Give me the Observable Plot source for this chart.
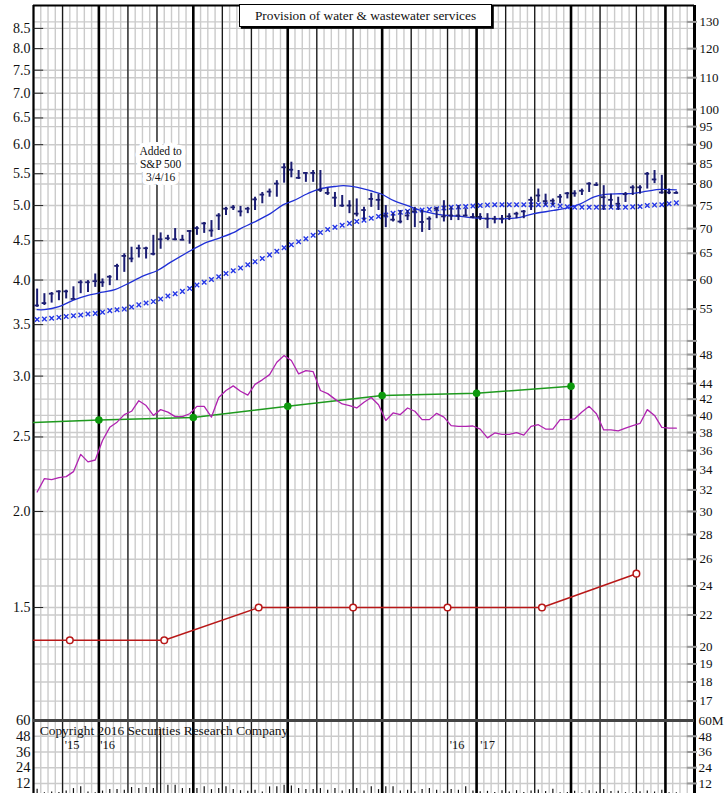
<!DOCTYPE html>
<html><head><meta charset="utf-8">
<script src="https://cdn.jsdelivr.net/npm/d3@7"></script>
<script src="https://cdn.jsdelivr.net/npm/@observablehq/plot@0.6"></script>
<style>
html,body{margin:0;padding:0;background:#fff;overflow:hidden;}
#wrap{position:relative;width:724px;height:793px;overflow:hidden;background:#fff;}
#wrap svg{position:absolute;left:0;overflow:visible;}
#title{position:absolute;left:239px;top:3.5px;width:251px;height:21px;border:1.2px solid #000;box-shadow:1.8px 1.8px 0 #000;background:#fff;
  font-family:'Liberation Serif','Times New Roman',serif;font-size:13.3px;text-align:center;line-height:21px;color:#111;z-index:5;}
</style></head><body><div id="wrap"></div>
<script>
// ---------- text ----------
const title = "Provision of water & wastewater services";
const note = ["Added to", "S&P 500", "3/4/16"];
const copyright = "Copyright 2016 Securities Research Company";
const yearText = ["'15", "'16", "'16", "'17"];
const yearWeek = [4.3, 9.2, 57.3, 61.5];

// ---------- weekly price bars (right scale) ----------
const high = [58.4,57.6,57.8,58.1,58.2,58.8,59.9,59.9,61.1,60.2,
  60.8,62.9,64.9,66.2,66.6,66.2,68.6,69.1,68.6,70.0,
  68.6,69.6,70.4,71.3,71.7,73.2,74.6,75.0,74.8,74.6,
  76.9,78.0,78.8,80.8,85.0,85.4,83.3,82.8,83.3,83.3,
  79.0,78.0,77.3,76.1,76.5,74.6,77.8,77.6,75.0,73.2,
  73.9,73.9,74.6,73.9,72.5,74.6,76.1,74.6,75.0,74.3,
  73.2,73.2,73.2,72.6,72.8,73.2,73.5,73.9,76.9,78.8,
  77.6,76.5,77.5,78.0,78.4,78.8,80.3,80.3,79.6,77.6,
  76.9,78.0,79.6,79.6,82.8,83.3,82.1,78.8,78.2];
const low = [55.3,55.6,56.0,56.4,56.7,56.6,57.6,57.8,58.7,58.7,
  59.0,59.9,61.4,63.2,64.1,63.9,64.5,65.8,67.5,67.5,
  67.5,66.8,68.6,69.0,68.2,69.6,72.8,73.9,72.5,73.2,
  73.9,75.4,76.9,76.9,80.2,81.5,81.1,80.4,80.4,78.0,
  77.3,74.6,74.6,73.2,72.5,71.7,74.6,73.9,70.2,71.4,
  71.0,71.7,70.2,69.2,69.6,72.1,71.4,71.7,71.7,72.5,
  72.1,71.7,70.0,71.0,71.0,71.7,72.1,72.1,73.9,75.7,
  75.0,75.0,75.4,76.5,76.9,77.3,78.0,79.4,73.9,74.3,
  73.9,75.7,77.3,77.6,78.8,80.1,77.6,77.5,77.6];
const close = [55.6,56.0,57.6,58.0,58.0,56.7,59.6,59.6,59.8,59.6,
  60.6,62.6,64.5,64.0,66.0,66.0,64.9,67.8,68.0,67.8,
  67.7,69.5,70.1,71.1,69.6,72.8,74.3,74.6,73.7,74.3,
  76.4,77.5,78.2,80.1,84.1,83.5,81.5,82.7,82.7,78.6,
  77.9,76.8,75.0,75.0,73.2,74.0,76.5,76.3,72.8,71.9,
  71.5,72.8,73.7,71.4,72.1,74.3,72.6,72.8,72.8,72.8,
  72.5,72.5,72.1,72.1,72.1,72.6,73.2,73.7,76.3,77.3,
  76.0,76.1,77.0,77.8,77.8,78.4,80.1,79.8,76.9,76.3,
  75.4,77.6,79.2,79.2,82.5,81.1,78.0,78.0,77.9];

// ---------- moving averages ----------
const ma10Week = [0,1,3,5,7,9,10.7,12.4,14.7,16.5,18.4,21.6,23.4,25.2,27.1,28,29.8,32.1,33.9,35.3,37.2,38.8,40.9,42.2,44.1,45.9,47.3,49.1,51,52.8,54.6,56.5,58.3,60.1,62.9,64.7,66.5,68.4,71.1,73,74.8,76.6,78,80.3,82.1,84,85.8,88];
const ma10 = [54.9,54.9,55.4,56.5,57.3,57.85,58.3,59.3,60.8,61.7,63.3,65.9,67.2,68.1,69.2,70.0,71.3,73.2,75.2,76.1,77.7,78.8,79.4,79.6,79.2,78.4,77.7,76.1,75.0,73.9,73.2,72.8,72.6,72.3,72.1,72.1,72.4,73.2,73.9,74.5,75.4,76.9,77.5,77.7,77.8,78.3,78.7,78.6];
const ma40 = [53.3,53.4,53.5,53.65,53.8,53.9,54.05,54.2,54.3,54.5,
  54.75,54.9,55.0,55.35,55.7,56.0,56.25,56.7,57.2,57.6,
  58.0,58.5,59.1,59.6,60.1,60.6,61.2,61.7,62.2,62.8,
  63.4,64.0,64.7,65.4,66.1,66.7,67.3,67.9,68.6,69.2,
  69.8,70.3,70.7,71.1,71.5,71.8,72.2,72.6,72.9,73.3,
  73.5,73.7,73.85,74.0,74.15,74.3,74.45,74.6,74.7,74.8,
  74.9,75.0,75.1,75.2,75.2,75.2,75.2,75.2,75.2,75.2,
  75.2,75.1,74.9,74.7,74.6,74.6,74.6,74.6,74.6,74.6,
  74.6,74.6,74.7,74.8,75.0,75.1,75.2,75.4,75.6];

// ---------- relative strength line ----------
const rs = [31.8,33.1,33.0,33.2,33.3,33.8,35.6,34.8,35.0,37.1,
  38.6,39.2,40.1,40.5,41.8,41.2,40.0,40.7,40.4,39.85,
  39.85,40.2,41.1,41.1,39.8,42.2,43.1,43.7,43.0,42.5,
  43.9,44.5,45.2,46.9,47.85,47.15,45.3,45.75,45.6,43.1,
  42.7,42.0,41.4,41.2,40.9,41.6,42.2,41.3,39.4,40.3,
  40.1,40.9,40.5,39.5,39.5,40.25,39.8,38.8,38.7,38.7,
  38.75,38.4,37.4,37.95,37.8,37.8,38.0,37.7,38.7,38.9,
  38.4,38.4,39.5,39.5,39.6,40.4,41.1,40.2,38.3,38.3,
  38.2,38.5,38.8,39.05,40.7,40.0,38.6,38.5,38.5];

// ---------- earnings & dividends (left scale) ----------
const epsWeek = [0, 9, 22, 35, 48, 61, 74];
const eps = [2.61, 2.63, 2.65, 2.74, 2.83, 2.85, 2.91];
const divWeek = [0, 5, 18, 31, 44, 57, 70, 83];
const div = [1.36, 1.36, 1.36, 1.50, 1.50, 1.50, 1.50, 1.66];

// ---------- volume (millions) ----------
const volume = [7.6,5.0,5.5,5.2,6.2,8.1,9.4,5.5,5.0,6.2,
  7.3,7.3,6.8,8.9,8.1,8.9,8.1,53.5,10.7,10.7,
  8.1,8.1,8.1,9.4,7.3,8.1,9.4,7.3,6.5,6.0,
  6.8,5.5,9.4,9.4,10.7,10.0,8.1,7.3,7.3,8.1,
  6.8,8.1,6.2,7.3,8.1,6.2,9.4,7.3,9.4,9.4,
  6.2,6.8,5.6,7.3,8.1,6.8,5.6,7.3,6.8,9.4,
  6.2,5.6,6.0,5.2,6.5,5.5,6.5,5.2,6.2,7.0,
  5.8,7.6,5.0,5.2,6.0,5.0,6.5,5.5,7.3,5.8,
  6.0,5.0,5.0,5.6,6.2,5.5,6.8,5.0,5.0];

// ---------- axes / grid ----------
const leftTicks = [8.5,8.0,7.5,7.0,6.5,6.0,5.5,5.0,4.5,4.0,3.5,3.0,2.5,2.0,1.5];
const rightTicks = [130,120,110,100,95,90,85,80,75,70,65,60,55,48,44,42,40,38,36,34,32,30,28,26,24,22,20,19,18,17];
const rightMinor = [50, 46];
const volTicks = [60, 48, 36, 24, 12];
const monthWeeks = [4,13,17,26,30,39,44,52,57,65,69,78,83];
const quarterWeeks = [9,22,35,48,61,74,87];
const nWeeks = 91;
const ratio = 15;             // right scale = 15 x left scale
const yDomain = [16.04, 136.55];

// ---------- derived tables ----------
const bars = high.map((h, i) => ({x: i + 0.5, high: h, low: low[i], close: close[i]}));
const ma10Data = ma10Week.map((w, i) => ({x: w + 0.5, v: ma10[i]}));
const ma40Data = ma40.map((v, i) => ({x: i + 0.5, v}));
const rsData = rs.map((v, i) => ({x: i + 0.5, v}));
const epsData = epsWeek.map((w, i) => ({x: w, v: eps[i] * ratio, dot: i > 0}));
const divData = divWeek.map((w, i) => ({x: w, v: div[i] * ratio, dot: i > 0}));
const volData = volume.map((v, i) => ({x: i + 0.5, v}));
const yearData = yearText.map((t, i) => ({x: yearWeek[i], t}));
const gridVals = Array.from(new Set(rightTicks.concat(rightMinor, leftTicks.map(v => v * ratio))));
const weeks = d3.range(0, nWeeks + 1);

const font = "'Liberation Serif','Times New Roman',serif";
const navy = "#1b1d72";

const gridMarks = () => [
  Plot.ruleX(weeks, {stroke: "#cbcbcb", strokeWidth: 1.4}),
];
const vLines = () => [
  Plot.ruleX(monthWeeks, {stroke: "#1a1a1a", strokeWidth: 1.3}),
  Plot.ruleX(quarterWeeks, {stroke: "#000", strokeWidth: 2.6}),
  Plot.ruleX([0], {stroke: "#000", strokeWidth: 2.2}),
  Plot.ruleX([nWeeks], {stroke: "#000", strokeWidth: 3})
];

const main = Plot.plot({
  width: 724, height: 722,
  marginLeft: 33, marginRight: 30, marginTop: 5, marginBottom: 2,
  x: {domain: [0, nWeeks], axis: null},
  y: {type: "log", domain: yDomain},
  style: {fontFamily: font, fontSize: "14px", color: "#111", background: "transparent", overflow: "visible"},
  marks: [
    ...gridMarks(),
    Plot.ruleY(gridVals, {stroke: "#cbcbcb", strokeWidth: 1.4}),
    ...vLines(),
    Plot.ruleY([yDomain[1]], {stroke: "#000", strokeWidth: 2}),
    Plot.ruleY(leftTicks.map(v => v * ratio), {x1: 0, x2: 1.4, stroke: "#222", strokeWidth: 1}),
    Plot.ruleY(rightTicks.concat(rightMinor), {x1: nWeeks - 1, x2: nWeeks + 0.4, stroke: "#999", strokeWidth: 2}),
    Plot.axisY({anchor: "left", ticks: leftTicks.map(v => v * ratio), tickFormat: d => (d / ratio).toFixed(1), tickSize: 0, tickPadding: 3, label: null, fontSize: 14}),
    Plot.axisY({anchor: "right", ticks: rightTicks, tickFormat: d => String(d), tickSize: 0, tickPadding: 5, label: null, fontSize: 13}),
    Plot.text([note.join("\n")], {x: 17.5, y: 85, fontSize: 11.5, lineHeight: 1.13, fill: "#111", stroke: "white", strokeWidth: 8, paintOrder: "stroke"}),
    // dividends
    Plot.line(divData, {x: "x", y: "v", stroke: "#b81818", strokeWidth: 1.5}),
    Plot.dot(divData.filter(d => d.dot), {x: "x", y: "v", r: 3.3, fill: "white", stroke: "#b81818", strokeWidth: 1.5}),
    // earnings
    Plot.line(epsData, {x: "x", y: "v", stroke: "#1e9a1e", strokeWidth: 1.5}),
    Plot.dot(epsData.filter(d => d.dot), {x: "x", y: "v", r: 3.8, fill: "#0d990d"}),
    // relative strength
    Plot.line(rsData, {x: "x", y: "v", stroke: "#b023b0", strokeWidth: 1.3}),
    // moving averages
    Plot.line(ma10Data, {x: "x", y: "v", stroke: "#1f2fd6", strokeWidth: 1.3, curve: "catmull-rom"}),
    Plot.dot(ma40Data, {x: "x", y: "v", symbol: "times", r: 2.2, stroke: "#2436e6", strokeWidth: 1.4}),
    // price bars
    Plot.ruleX(bars, {x: "x", y1: "low", y2: "high", stroke: navy, strokeWidth: 2}),
    Plot.ruleY(bars, {y: "close", x1: d => d.x - 0.32, x2: d => d.x + 0.32, stroke: navy, strokeWidth: 1.8})
  ]
});

const vol = Plot.plot({
  width: 724, height: 80,
  marginLeft: 33, marginRight: 30, marginTop: 0, marginBottom: 1.3,
  x: {domain: [0, nWeeks], axis: null},
  y: {domain: [0, 60]},
  style: {fontFamily: font, fontSize: "14px", color: "#111", background: "transparent", overflow: "visible"},
  marks: [
    ...gridMarks(),
    Plot.ruleY(volTicks.slice(1), {stroke: "#cbcbcb", strokeWidth: 1.4}),
    ...vLines(),
    Plot.ruleX(volData, {x: "x", y1: 0, y2: "v", stroke: "#111", strokeWidth: 1.2}),
    Plot.ruleY([60], {stroke: "#444", strokeWidth: 3}),
    Plot.ruleY(volTicks.slice(1), {x1: nWeeks - 1, x2: nWeeks + 0.4, stroke: "#999", strokeWidth: 2}),
    Plot.axisY({anchor: "left", ticks: volTicks, tickFormat: d => String(d), tickSize: 0, tickPadding: 3, label: null, fontSize: 14.5}),
    Plot.axisY({anchor: "right", ticks: volTicks, tickFormat: d => d === 60 ? "60M" : String(d), tickSize: 0, tickPadding: 4, label: null, fontSize: 13.3}),
    Plot.text([copyright], {frameAnchor: "top-left", dx: 6.3, dy: 5, lineAnchor: "top", textAnchor: "start", fontSize: 13.4, fill: "#111"}),
    Plot.text(yearData, {x: "x", y: 41.5, text: "t", textAnchor: "start", fontSize: 12.5, fill: "#111"})
  ]
});

const wrap = document.getElementById("wrap");
main.style.top = "0px";
vol.style.top = "720px";
wrap.appendChild(main);
wrap.appendChild(vol);
const t = document.createElement("div");
t.id = "title";
t.textContent = title;
wrap.appendChild(t);
</script>
</body></html>
